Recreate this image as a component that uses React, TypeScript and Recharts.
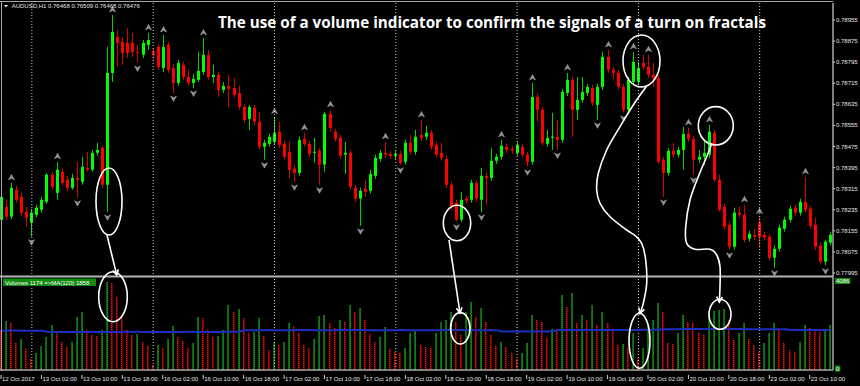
import React from 'react';
import { ComposedChart, Bar, Line, XAxis, YAxis, ReferenceLine } from 'recharts';

// ---------- categories (hourly bars, AUDUSD H1) ----------
const SESSIONS: [string, number, number][] = [
  ['12 Oct', 18, 23], ['13 Oct', 0, 23], ['16 Oct', 0, 23], ['17 Oct', 0, 23],
  ['18 Oct', 0, 23], ['19 Oct', 0, 23], ['20 Oct', 0, 23], ['23 Oct', 0, 14],
];
const CATEGORIES: string[] = SESSIONS.flatMap(([d, a, b]) =>
  Array.from({ length: b - a + 1 }, (_, k) => `${d} ${String(a + k).padStart(2, '0')}:00`)
);

const X_TICKS = [
  '12 Oct 18:00', '13 Oct 02:00', '13 Oct 10:00', '13 Oct 18:00', '16 Oct 02:00', '16 Oct 10:00',
  '16 Oct 18:00', '17 Oct 02:00', '17 Oct 10:00', '17 Oct 18:00', '18 Oct 02:00', '18 Oct 10:00',
  '18 Oct 18:00', '19 Oct 02:00', '19 Oct 10:00', '19 Oct 18:00', '20 Oct 02:00', '20 Oct 10:00',
  '20 Oct 18:00', '23 Oct 02:00', '23 Oct 10:00',
];
const X_TICK_LABELS = [
  '12 Oct 2017', '13 Oct 02:00', '13 Oct 10:00', '13 Oct 18:00', '16 Oct 02:00', '16 Oct 10:00',
  '16 Oct 18:00', '17 Oct 02:00', '17 Oct 10:00', '17 Oct 18:00', '18 Oct 02:00', '18 Oct 10:00',
  '18 Oct 18:00', '19 Oct 02:00', '19 Oct 10:00', '19 Oct 18:00', '20 Oct 02:00', '20 Oct 10:00',
  '20 Oct 18:00', '23 Oct 02:00', '23 Oct 10:00',
];
const DAY_STARTS = ['13 Oct 00:00', '16 Oct 00:00', '17 Oct 00:00', '18 Oct 00:00', '19 Oct 00:00', '20 Oct 00:00', '23 Oct 00:00'];

const PRICE_TICKS = [0.77995, 0.78075, 0.78155, 0.78235, 0.78315, 0.78395, 0.78475, 0.78555, 0.78635, 0.78715, 0.78795, 0.78875, 0.78955];
const VOL_TICKS = [0, 4086];
const PRICE_MIN = 0.77627;
const PRICE_MAX = 0.790195;
const VOL_MAX = 16478;

// ---------- series ----------
const OPEN = [
  0.78197,0.78246,0.78209,0.78311,0.78284,0.78227,0.78186,0.78216,0.78235,0.78265,
  0.78368,0.78299,0.78379,0.78349,0.78318,0.78356,0.78341,0.78394,0.78387,0.78451,
  0.78470,0.78330,0.78754,0.78891,0.78872,0.78868,0.78868,0.78834,0.78823,0.78860,
  0.78834,0.78853,0.78773,0.78860,0.78773,0.78716,0.78785,0.78739,0.78716,0.78728,
  0.78758,0.78823,0.78739,0.78747,0.78690,0.78705,0.78697,0.78678,0.78625,0.78580,
  0.78622,0.78569,0.78474,0.78485,0.78493,0.78531,0.78485,0.78455,0.78391,0.78375,
  0.78504,0.78485,0.78451,0.78459,0.78406,0.78599,0.78531,0.78508,0.78444,0.78451,
  0.78318,0.78277,0.78315,0.78307,0.78364,0.78428,0.78451,0.78447,0.78440,0.78447,
  0.78417,0.78489,0.78455,0.78519,0.78512,0.78527,0.78481,0.78451,0.78428,0.78330,
  0.78262,0.78197,0.78277,0.78273,0.78337,0.78273,0.78364,0.78356,0.78421,0.78436,
  0.78474,0.78466,0.78451,0.78474,0.78444,0.78417,0.78663,0.78614,0.78485,0.78508,
  0.78512,0.78500,0.78678,0.78728,0.78614,0.78652,0.78678,0.78697,0.78633,0.78701,
  0.78815,0.78766,0.78754,0.78701,0.78614,0.78720,0.78720,0.78792,0.78777,0.78747,
  0.78735,0.78425,0.78375,0.78459,0.78444,0.78462,0.78523,0.78504,0.78425,0.78436,
  0.78444,0.78527,0.78349,0.78246,0.78178,0.78095,0.78224,0.78216,0.78125,0.78140,
  0.78186,0.78140,0.78133,0.78053,0.78087,0.78163,0.78197,0.78243,0.78224,0.78265,
  0.78239,0.78178,0.78099,0.78038,0.78110,
];
const HIGH = [
  0.78299,0.78273,0.78337,0.78326,0.78299,0.78246,0.78239,0.78254,0.78284,0.78375,
  0.78379,0.78417,0.78391,0.78364,0.78371,0.78417,0.78436,0.78455,0.78462,0.78489,
  0.78478,0.78853,0.78974,0.78917,0.78891,0.78925,0.78906,0.78860,0.78879,0.78906,
  0.78849,0.78864,0.78898,0.78872,0.78788,0.78804,0.78796,0.78766,0.78751,0.78834,
  0.78887,0.78841,0.78785,0.78758,0.78720,0.78747,0.78735,0.78705,0.78637,0.78633,
  0.78633,0.78606,0.78500,0.78523,0.78588,0.78569,0.78497,0.78493,0.78406,0.78512,
  0.78527,0.78497,0.78508,0.78470,0.78606,0.78614,0.78542,0.78519,0.78493,0.78462,
  0.78330,0.78318,0.78349,0.78387,0.78444,0.78462,0.78493,0.78459,0.78459,0.78459,
  0.78500,0.78519,0.78538,0.78576,0.78553,0.78538,0.78493,0.78489,0.78440,0.78341,
  0.78273,0.78303,0.78288,0.78349,0.78349,0.78394,0.78375,0.78470,0.78447,0.78500,
  0.78485,0.78478,0.78493,0.78485,0.78455,0.78716,0.78675,0.78625,0.78538,0.78603,
  0.78576,0.78694,0.78754,0.78739,0.78739,0.78739,0.78713,0.78709,0.78713,0.78834,
  0.78841,0.78777,0.78766,0.78713,0.78739,0.78834,0.78796,0.78823,0.78823,0.78792,
  0.78747,0.78436,0.78470,0.78489,0.78474,0.78550,0.78546,0.78516,0.78462,0.78500,
  0.78557,0.78538,0.78368,0.78258,0.78190,0.78243,0.78246,0.78254,0.78155,0.78163,
  0.78209,0.78152,0.78144,0.78099,0.78178,0.78209,0.78250,0.78254,0.78277,0.78360,
  0.78250,0.78205,0.78110,0.78121,0.78152,
];
const LOW = [
  0.78190,0.78197,0.78201,0.78262,0.78212,0.78171,0.78133,0.78205,0.78224,0.78258,
  0.78311,0.78273,0.78326,0.78307,0.78311,0.78281,0.78330,0.78379,0.78379,0.78440,
  0.78318,0.78227,0.78720,0.78777,0.78785,0.78811,0.78815,0.78792,0.78811,0.78841,
  0.78804,0.78766,0.78758,0.78754,0.78678,0.78705,0.78728,0.78705,0.78697,0.78720,
  0.78747,0.78728,0.78716,0.78663,0.78678,0.78625,0.78660,0.78614,0.78565,0.78538,
  0.78557,0.78466,0.78425,0.78474,0.78481,0.78470,0.78425,0.78356,0.78341,0.78364,
  0.78474,0.78436,0.78413,0.78330,0.78379,0.78531,0.78493,0.78428,0.78371,0.78311,
  0.78265,0.78174,0.78284,0.78296,0.78353,0.78417,0.78432,0.78428,0.78428,0.78406,
  0.78406,0.78444,0.78444,0.78497,0.78500,0.78462,0.78432,0.78421,0.78318,0.78235,
  0.78190,0.78190,0.78258,0.78262,0.78265,0.78227,0.78254,0.78345,0.78409,0.78425,
  0.78451,0.78447,0.78440,0.78432,0.78398,0.78406,0.78569,0.78478,0.78474,0.78462,
  0.78462,0.78489,0.78667,0.78512,0.78576,0.78641,0.78667,0.78629,0.78576,0.78690,
  0.78754,0.78728,0.78690,0.78603,0.78603,0.78709,0.78709,0.78766,0.78735,0.78701,
  0.78409,0.78284,0.78364,0.78432,0.78432,0.78387,0.78493,0.78368,0.78413,0.78406,
  0.78432,0.78341,0.78227,0.78159,0.78083,0.78083,0.78205,0.78110,0.78114,0.78121,
  0.78091,0.78118,0.78042,0.78015,0.78076,0.78152,0.78186,0.78212,0.78212,0.78224,
  0.78163,0.78083,0.78027,0.78023,0.78099,
];
const CLOSE = [
  0.78284,0.78209,0.78318,0.78273,0.78224,0.78205,0.78224,0.78243,0.78273,0.78368,
  0.78322,0.78387,0.78337,0.78318,0.78356,0.78349,0.78398,0.78387,0.78451,0.78462,
  0.78330,0.78754,0.78910,0.78868,0.78830,0.78830,0.78834,0.78830,0.78868,0.78879,
  0.78823,0.78777,0.78853,0.78766,0.78716,0.78792,0.78739,0.78716,0.78732,0.78762,
  0.78823,0.78739,0.78747,0.78690,0.78705,0.78694,0.78671,0.78625,0.78576,0.78625,
  0.78569,0.78474,0.78489,0.78512,0.78527,0.78481,0.78436,0.78387,0.78375,0.78500,
  0.78485,0.78447,0.78455,0.78406,0.78599,0.78546,0.78504,0.78440,0.78451,0.78322,
  0.78277,0.78307,0.78303,0.78371,0.78432,0.78451,0.78444,0.78440,0.78447,0.78413,
  0.78489,0.78455,0.78512,0.78508,0.78527,0.78474,0.78444,0.78432,0.78330,0.78246,
  0.78197,0.78273,0.78269,0.78337,0.78277,0.78364,0.78356,0.78421,0.78436,0.78478,
  0.78462,0.78459,0.78481,0.78444,0.78417,0.78663,0.78614,0.78489,0.78508,0.78512,
  0.78500,0.78682,0.78728,0.78614,0.78652,0.78682,0.78701,0.78641,0.78701,0.78815,
  0.78766,0.78754,0.78701,0.78614,0.78728,0.78796,0.78773,0.78777,0.78747,0.78735,
  0.78417,0.78375,0.78459,0.78444,0.78462,0.78523,0.78504,0.78425,0.78436,0.78451,
  0.78531,0.78349,0.78235,0.78171,0.78095,0.78224,0.78216,0.78121,0.78144,0.78133,
  0.78133,0.78129,0.78053,0.78087,0.78167,0.78197,0.78239,0.78224,0.78265,0.78235,
  0.78174,0.78095,0.78038,0.78114,0.78140,
];
const VOLUME = [
  1796,2200,2110,1212,1392,943,494,763,1078,1482,
  2021,1706,1257,1033,1257,2380,2604,1796,1572,1527,
  1796,3951,3906,3278,2380,1796,1572,1616,1257,1078,
  225,1123,988,1392,1976,1482,1302,988,1212,2380,
  2335,1796,1482,1527,1796,2919,2604,2739,2335,1661,
  1706,2335,1527,898,1257,1123,1257,2110,1931,1661,
  1123,988,1392,2425,2470,2110,1886,2245,2155,2919,
  2604,2784,2245,1616,1257,1482,1931,943,808,763,
  988,1661,1796,1123,1033,988,1661,2155,2245,2604,
  2155,1572,2604,3053,2380,2784,2155,1572,1078,1257,
  1033,763,494,763,1212,2470,2245,2155,1437,1841,
  1796,3368,2829,3457,2110,2470,2245,2919,2021,2604,
  2110,1796,1123,1167,988,1661,539,988,1976,2245,
  3008,2604,1212,1167,1661,2470,2155,2110,1661,1572,
  2604,2649,2694,2739,2245,1347,1661,2110,1392,1123,
  808,1212,1661,2110,1796,1212,898,808,1257,2021,
  1886,1796,1706,1751,2021,
];
const MA = [
  1765,1767,1768,1768,1767,1766,1765,1763,1760,
  1715,1712,1711,1710,1710,1709,1709,1710,1711,1712,
  1711,1710,1709,1708,1710,1712,1714,1713,1712,1711,
  1710,1709,1708,1707,1708,1709,1710,1711,1712,1712,
  1711,1710,1709,1710,1711,1712,1713,1714,1716,
  1786,1788,1789,1790,1790,1791,1790,1789,1789,1790,
  1791,1792,1792,1791,1790,1789,1788,1789,1790,1791,
  1792,1793,1792,1791,1790,1790,1789,1788,1788,1789,
  1790,1791,1790,1789,1788,1787,1788,1789,1790,1791,
  1792,1793,1794,1793,1792,1791,1790,1789,1788,1787,1786,
  1728,1727,1726,1725,1724,1724,1725,1726,1727,1728,1730,
  1792,1793,1794,1795,1796,1796,1797,1796,1795,1795,
  1796,1797,1798,1799,1800,1801,1802,1803,1804,1805,1806,
  1832,1833,1834,1835,1836,1837,1838,1838,1839,1840,
  1840,1841,1840,1839,1838,1837,1836,1835,1834,1833,
  1832,1832,1831,1830,1829,
  1802,1801,1800,1800,1799,1798,1797,1797,1796,
];
const FRACTAL_UP = [2, 11, 22, 29, 32, 40, 54, 60, 65, 76, 83, 99, 105, 112, 120, 125, 128, 136, 140, 147, 150, 159];
const FRACTAL_DOWN = [6, 15, 21, 27, 34, 38, 52, 58, 63, 71, 79, 90, 95, 104, 110, 118, 123, 131, 137, 144, 153, 163];

const data = CATEGORIES.map((t, i) => ({
  t,
  open: OPEN[i], high: HIGH[i], low: LOW[i], close: CLOSE[i],
  vol: VOLUME[i], prevVol: i > 0 ? VOLUME[i - 1] : VOLUME[i], ma: MA[i],
  fu: FRACTAL_UP.includes(i), fd: FRACTAL_DOWN.includes(i),
}));

// ---------- annotations (hand-drawn overlay of the original picture) ----------
const TITLE = 'The use of a volume indicator to confirm the signals of a turn on fractals';
const HEADER = 'AUDUSD,H1  0.76468 0.76509 0.76468 0.76476';
const VOL_HEADER = 'Volumes 1174  =>MA(120) 1858';
const ELLIPSES: [number, number, number, number][] = [
  [109, 201.5, 13, 33.5],
  [113, 296.7, 14.3, 25],
  [457, 223, 13.7, 17.8],
  [460.3, 328.3, 9.7, 15.7],
  [641.5, 61, 18.5, 26],
  [639.5, 340.8, 10.5, 27.5],
  [715.8, 125.8, 17.5, 19.2],
  [720, 314.3, 11, 15],
];
const ARROWS: [number, number][][] = [
  [[107, 235], [116.7, 275]],
  [[449, 240], [460, 313]],
  [[646.7, 86], [633.3, 105], [620, 126.7], [606.7, 150], [598.3, 173.3], [596.7, 190], [600, 203.3],
   [610, 216.7], [626.7, 230], [635, 235.5], [641.7, 243.3], [645.7, 260], [646.7, 283.3], [643.3, 303.3], [640, 313.5]],
  [[712, 143], [706.7, 156.7], [698.3, 176.7], [690, 200], [685.7, 226.7], [686.7, 243.3], [695, 249.3],
   [710, 249.3], [716.7, 255], [720, 266.7], [720, 286.7], [719.3, 302]],
];

const FONT = '"Liberation Sans", Arial, sans-serif';

function smoothPath(pts: [number, number][]) {
  if (pts.length === 2) return `M${pts[0][0]},${pts[0][1]} L${pts[1][0]},${pts[1][1]}`;
  let d = `M${pts[0][0]},${pts[0][1]}`;
  for (let i = 0; i < pts.length - 1; i++) {
    const p0 = pts[i - 1] || pts[i];
    const p1 = pts[i];
    const p2 = pts[i + 1];
    const p3 = pts[i + 2] || p2;
    const c1x = p1[0] + (p2[0] - p0[0]) / 6, c1y = p1[1] + (p2[1] - p0[1]) / 6;
    const c2x = p2[0] - (p3[0] - p1[0]) / 6, c2y = p2[1] - (p3[1] - p1[1]) / 6;
    d += ` C${c1x},${c1y} ${c2x},${c2y} ${p2[0]},${p2[1]}`;
  }
  return d;
}
function arrowHead(pts: [number, number][]) {
  const [tx, ty] = pts[pts.length - 1];
  const [px, py] = pts[pts.length - 2];
  const a = Math.atan2(ty - py, tx - px);
  const L = 6, s = 0.5;
  const l1 = [tx - L * Math.cos(a - s), ty - L * Math.sin(a - s)];
  const l2 = [tx - L * Math.cos(a + s), ty - L * Math.sin(a + s)];
  return `M${l1[0]},${l1[1]} L${tx},${ty} L${l2[0]},${l2[1]}`;
}

// ---------- shapes ----------
const CandleShape = (props: any) => {
  const { x, y, width, height, payload } = props;
  if (!payload || height == null) return null;
  const { open, high, low, close, fu, fd } = payload;
  const top = Math.min(y, y + height);
  const h = Math.abs(height);
  const k = high > low ? h / (high - low) : 0;
  const yO = top + (high - open) * k;
  const yC = top + (high - close) * k;
  const up = close >= open;
  const cx = Math.floor(x + width / 2);
  const bTop = Math.min(yO, yC);
  const bH = Math.max(1, Math.abs(yO - yC));
  const body = up ? '#00ff00' : '#ff0000';
  const wick = up ? '#00d400' : '#d80000';
  const ax = cx + 0.5;
  return (
    <g>
      <line x1={ax} x2={ax} y1={top} y2={top + h} stroke={wick} strokeWidth={1} />
      <rect x={cx - 1} y={bTop} width={3} height={bH} fill={body} />
      {fu && (
        <path d={`M${ax},${top - 8.5} L${ax + 3},${top - 3} L${ax},${top - 4.6} L${ax - 3},${top - 3} Z`}
          fill="#8e8e8e" stroke="#c8c8c8" strokeWidth={0.4} />
      )}
      {fd && (
        <path d={`M${ax},${top + h + 8.5} L${ax + 3},${top + h + 3} L${ax},${top + h + 4.6} L${ax - 3},${top + h + 3} Z`}
          fill="#8e8e8e" stroke="#c8c8c8" strokeWidth={0.4} />
      )}
    </g>
  );
};

const VolShape = (props: any) => {
  const { x, y, width, height, payload } = props;
  if (!payload || height == null) return null;
  const top = Math.min(y, y + height);
  const h = Math.abs(height);
  const cx = Math.floor(x + width / 2);
  const rising = payload.vol > payload.prevVol;
  if (rising) {
    return (
      <g>
        <rect x={cx - 1} y={top} width={2} height={h} fill="#0b640b" />
        <line x1={cx + 0.5} x2={cx + 0.5} y1={top} y2={top + h} stroke="#1d8c1d" strokeWidth={1} strokeDasharray="1 1" />
      </g>
    );
  }
  return (
    <g>
      <rect x={cx - 1} y={top} width={2} height={h} fill="#6a0000" />
      <line x1={cx - 0.5} x2={cx - 0.5} y1={top} y2={top + h} stroke="#f01818" strokeWidth={1} strokeDasharray="1 1" />
    </g>
  );
};

const PriceTick = (props: any) => {
  const { x, y, payload } = props;
  return (
    <text x={x} y={y + 2} fontSize={6} fontFamily={FONT} fill="#e6e6e6" textAnchor="start">
      {Number(payload.value).toFixed(5)}
    </text>
  );
};

const volLabel = (value: number) => (props: any) => {
  const vb = props.viewBox || {};
  const x = (vb.x || 0) + (vb.width || 0);
  const y = vb.y || 0;
  const s = String(value);
  const w = s.length * 3.35 + 2;
  const ry = value === 0 ? y - 4.5 : y - 1;
  return (
    <g>
      <rect x={x + 2} y={ry} width={w} height={6} fill="#118a11" />
      <text x={x + 3} y={ry + 5} fontSize={6} fontFamily={FONT} fill="#ffffff" textAnchor="start">{s}</text>
    </g>
  );
};

const TimeTick = (props: any) => {
  const { x, y, payload } = props;
  const idx = X_TICKS.indexOf(payload.value);
  const label = idx >= 0 ? X_TICK_LABELS[idx] : payload.value;
  return (
    <g>
      <line x1={x - 0.5} x2={x - 0.5} y1={y + 5} y2={y + 9} stroke="#cfcfcf" strokeWidth={1} />
      <text x={x + 0.5} y={y + 10.5} fontSize={6} fontFamily={FONT} fill="#e6e6e6" textAnchor="start">{label}</text>
    </g>
  );
};

export default function App() {
  return (
    <div style={{ position: 'absolute', left: 0, top: 0, width: 860, height: 386, background: '#000', overflow: 'hidden' }}>
      <div style={{ position: 'absolute', left: -1, top: 0 }}>
        <ComposedChart width={861} height={386} data={data}
          margin={{ top: 3, right: 0, bottom: 0, left: 0 }} barCategoryGap={0} barGap={0}>
          <XAxis xAxisId="px" dataKey="t" type="category" ticks={X_TICKS} interval={0} height={16}
            tickSize={0} tickMargin={0} tickLine={false} tick={<TimeTick />} axisLine={{ stroke: '#a8a8a8', strokeWidth: 1.5 }} />
          <XAxis xAxisId="vx" dataKey="t" type="category" hide />
          <YAxis yAxisId="v" orientation="right" domain={[0, VOL_MAX]} allowDataOverflow hide />
          <YAxis yAxisId="p" orientation="right" domain={[PRICE_MIN, PRICE_MAX]} allowDataOverflow ticks={PRICE_TICKS}
            interval={0} width={27} tickSize={2} tickMargin={1} tick={<PriceTick />}
            tickLine={{ stroke: '#cfcfcf' }} axisLine={{ stroke: '#a8a8a8', strokeWidth: 1.5 }} />
          {DAY_STARTS.map((d) => (
            <ReferenceLine key={d} xAxisId="px" yAxisId="p" x={d} stroke="#cfcfcf" strokeWidth={1} strokeDasharray="1 2" />
          ))}
          {VOL_TICKS.map((v) => (
            <ReferenceLine key={`v${v}`} xAxisId="vx" yAxisId="v" y={v} stroke="none" label={volLabel(v)} />
          ))}
          <Bar xAxisId="vx" yAxisId="v" dataKey="vol" isAnimationActive={false} shape={(p: any) => <VolShape {...p} />} />
          <Line xAxisId="vx" yAxisId="v" dataKey="ma" type="linear" stroke="#1e2fbf" strokeWidth={2} dot={false} activeDot={false} isAnimationActive={false} />
          <Bar xAxisId="px" yAxisId="p" dataKey={(d: any) => [d.low, d.high]} isAnimationActive={false}
            shape={(p: any) => <CandleShape {...p} />} />
        </ComposedChart>
      </div>
      <svg width={860} height={386} style={{ position: 'absolute', left: 0, top: 0, pointerEvents: 'none' }}>
        {/* frame */}
        <line x1={0} x2={833} y1={1.5} y2={1.5} stroke="#a8a8a8" strokeWidth={1} />
        <line x1={1.5} x2={1.5} y1={1} y2={371} stroke="#a8a8a8" strokeWidth={1} />
        <line x1={0} x2={833} y1={276.5} y2={276.5} stroke="#b4b4b4" strokeWidth={2} />
        {/* headers */}
        <path d="M4,5 L8,5 L6,7.5 Z" fill="#e6e6e6" />
        <text x={11.7} y={8.3} fontSize={6} fontFamily={FONT} fill="#e6e6e6">{HEADER}</text>
        <rect x={3} y={278.5} width={93} height={7.5} fill="#118a11" />
        <text x={5} y={284.5} fontSize={6} fontFamily={FONT} fill="#ffffff">{VOL_HEADER}</text>
        <text x={218} y={28} fontSize={16.5} fontWeight="bold" fontFamily='"Open Sans", "DejaVu Sans", sans-serif'
          fill="#ffffff" textLength={548} lengthAdjust="spacingAndGlyphs">{TITLE}</text>
        {/* annotations */}
        {ELLIPSES.map(([cx, cy, rx, ry], i) => (
          <ellipse key={i} cx={cx} cy={cy} rx={rx} ry={ry} fill="none" stroke="#ffffff" strokeWidth={1.6} />
        ))}
        {ARROWS.map((pts, i) => (
          <g key={i}>
            <path d={smoothPath(pts)} fill="none" stroke="#ffffff" strokeWidth={1.6} />
            <path d={arrowHead(pts)} fill="none" stroke="#ffffff" strokeWidth={1.6} />
          </g>
        ))}
      </svg>
    </div>
  );
}
